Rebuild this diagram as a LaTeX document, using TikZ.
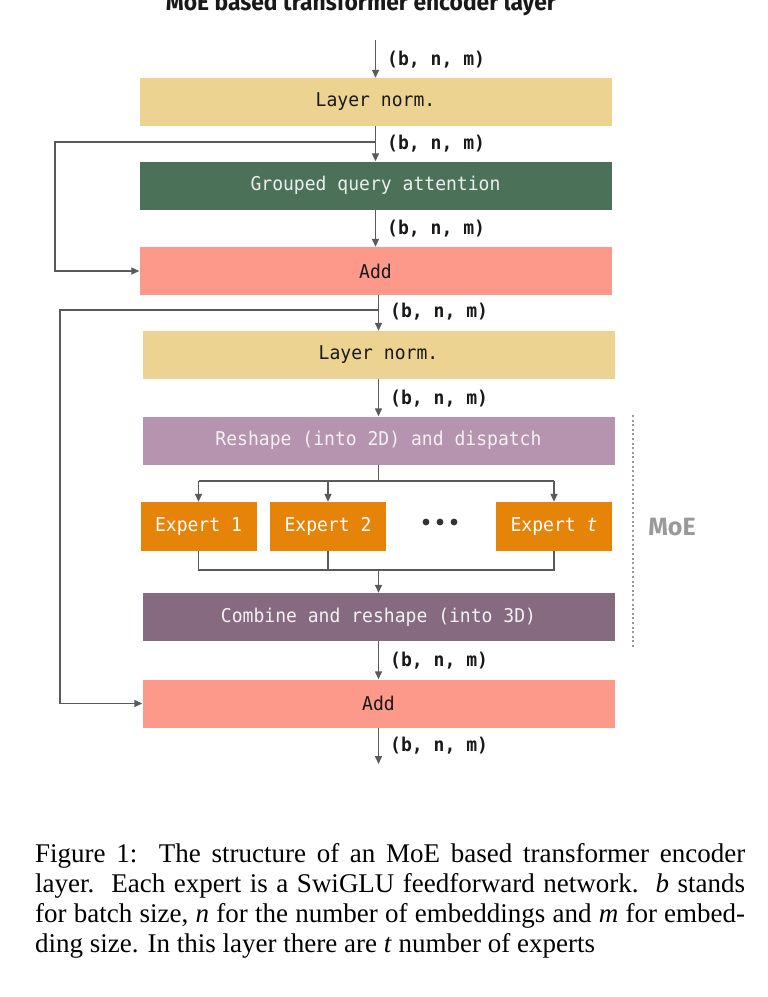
\documentclass[tikz,border=0pt]{standalone}
\usepackage{fontspec}
\setmainfont{Liberation Serif}
\newfontfamily\monof[FakeStretch=0.95]{DejaVu Sans Mono}
\newfontfamily\firaf{Fira Sans}
\newfontfamily\titlef[FakeStretch=0.95]{Fira Sans}
\usetikzlibrary{arrows.meta}
\definecolor{lncol}{HTML}{EDD391}
\definecolor{gqacol}{HTML}{4B7258}
\definecolor{addcol}{HTML}{FD998A}
\definecolor{rescol}{HTML}{B693AE}
\definecolor{expcol}{HTML}{E58409}
\definecolor{comcol}{HTML}{866A80}
\definecolor{linecol}{HTML}{5A5A5A}
\definecolor{moecol}{HTML}{999999}
\tikzset{
  blk/.style={rectangle, inner sep=0pt, minimum width=472pt, minimum height=48pt, font=\monof\fontsize{19}{22}\selectfont},
  expbox/.style={rectangle, inner sep=0pt, minimum width=116pt, minimum height=49pt, fill=expcol, text=white, font=\monof\fontsize{19}{22}\selectfont},
  conn/.style={draw=linecol, line width=1.4pt},
  arr/.style={conn, -{Triangle[length=8pt,width=7pt]}},
  shp/.style={anchor=west, inner sep=0pt, font=\monof\bfseries\fontsize{19}{22}\selectfont, text=black!90},
}
\begin{document}
\begin{tikzpicture}[x=1pt, y=-1pt]
\useasboundingbox (0,0) rectangle (768,997);
% title (clipped at top)
\node[anchor=base, inner sep=0pt, font=\titlef\bfseries\fontsize{24}{28}\selectfont, text=black!90] (title) at (361,10) {MoE based transformer encoder layer};
% blocks
\node[blk, fill=lncol, text=black!90] (ln1) at (375.5,102) {Layer norm.};
\node[blk, fill=gqacol, text=white!93!black] (gqa) at (375.5,185.5) {Grouped query attention};
\node[blk, fill=addcol, text=black!90] (add1) at (375.5,271) {Add};
\node[blk, fill=lncol, text=black!90] (ln2) at (378.5,355) {Layer norm.};
\node[blk, fill=rescol, text=white!95!black] (resh) at (378.5,440.5) {Reshape (into 2D) and dispatch};
\node[expbox] (e1) at (198.5,526.5) {Expert 1};
\node[expbox] (e2) at (328,526.5) {Expert 2};
\node[expbox] (et) at (554,526.5) {Expert \textit{t}};
\node[inner sep=0pt, minimum size=6pt] (dots) at (440,522) {};
\fill[black!80] (dots.center) circle (3.4pt) ++(-14,0) circle (3.4pt) ++(28,0) circle (3.4pt);
\node[blk, fill=comcol, text=white!95!black] (comb) at (378.5,617) {Combine and reshape (into 3D)};
\node[blk, fill=addcol, text=black!90] (add2) at (378.5,703.5) {Add};
% coordinates
\coordinate (in) at (375.5,40);
\coordinate (out) at (378.5,764);
\coordinate (s1) at (375.5,142);
\coordinate (k1) at (55,142);
\coordinate (s2) at (378.5,310);
\coordinate (k2) at (60,310);
\coordinate (d) at (378.5,481);
\coordinate (c) at (378.5,570);
% main flow
\draw[arr] (in) -- (ln1.north);
\draw[arr] (ln1.south) -- (gqa.north);
\draw[arr] (gqa.south) -- (add1.north);
\draw[arr] (s2 |- add1.south) -- (ln2.north);
\draw[arr] (ln2.south) -- (resh.north);
\draw[arr] (comb.south) -- (add2.north);
\draw[arr] (add2.south) -- (out);
% skips
\draw[arr] (s1) -- (k1) |- (add1.west);
\draw[arr] (s2) -- (k2) |- (add2.west);
% dispatch
\draw[conn] (resh.south) -- (d);
\draw[conn] (e1.north |- d) -- (et.north |- d);
\draw[arr] (e1.north |- d) -- (e1.north);
\draw[arr] (e2.north |- d) -- (e2.north);
\draw[arr] (et.north |- d) -- (et.north);
% combine
\draw[conn] (e1.south) -- (e1.south |- c) -- (et.south |- c) -- (et.south);
\draw[conn] (e2.south) -- (e2.south |- c);
\draw[arr] (c) -- (comb.north);
% shape labels
\node[shp] (l1) at (387,60) {(b, n, m)};
\node[shp] (l2) at (387,144) {(b, n, m)};
\node[shp] (l3) at (387,229) {(b, n, m)};
\node[shp] (l4) at (390,312) {(b, n, m)};
\node[shp] (l5) at (390,399) {(b, n, m)};
\node[shp] (l6) at (390,661) {(b, n, m)};
\node[shp] (l7) at (390,746) {(b, n, m)};
% MoE bracket
\coordinate (mt) at (633,415);
\coordinate (mb) at (633,647);
\draw[draw=moecol, line width=2.2pt, dash pattern=on 2pt off 2.6pt] (mt) -- (mb);
\node[inner sep=0pt, font=\firaf\bfseries\fontsize{25}{28}\selectfont, text=moecol] (moe) at (672,527) {MoE};
% caption
\node[anchor=north west, inner sep=0pt, text width=710pt, align=justify, font=\fontsize{27}{30}\selectfont] (cap) at (35,843) {Figure 1:\ \ The structure of an MoE based transformer encoder\linebreak layer.\ \ Each expert is a SwiGLU feedforward network.\ \ \textit{b} stands\linebreak for batch size, \textit{n} for the number of embeddings and \textit{m} for embed-\linebreak ding size. In this layer there are \textit{t} number of experts\par};
\end{tikzpicture}
\end{document}
